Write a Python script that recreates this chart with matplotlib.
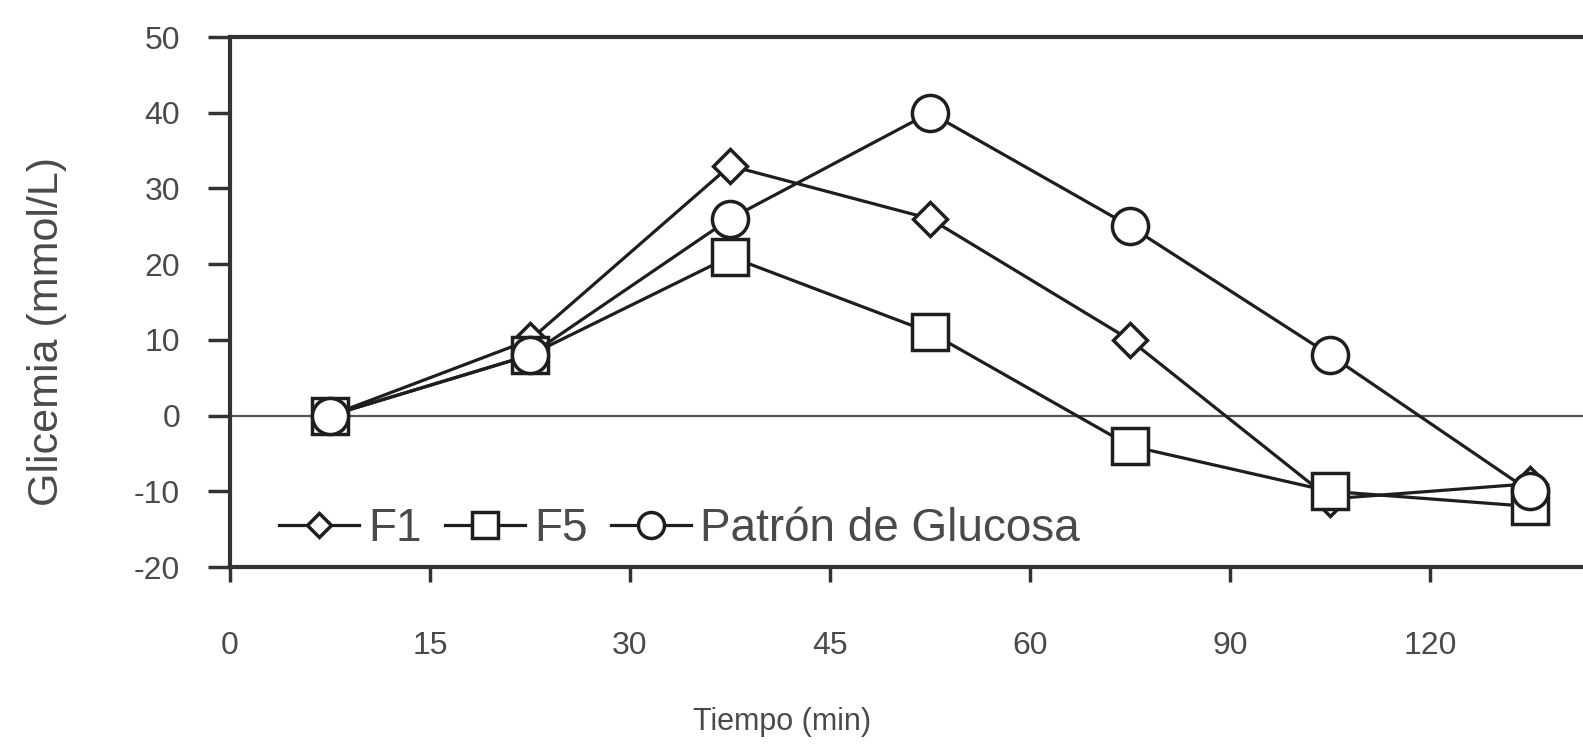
import matplotlib
matplotlib.use("Agg")
import matplotlib.pyplot as plt
import numpy as np

# Data
tiempos = ["7.5", "22.5", "37.5", "52.5", "75", "105", "135"]
tick_labels = ["0", "15", "30", "45", "60", "90", "120"]
f1 = [0, 10, 33, 26, 10, -11, -9]
f5 = [0, 8, 21, 11, -4, -10, -12]
glucosa = [0, 8, 26, 40, 25, 8, -10]

plt.rcParams['font.family'] = ['Liberation Sans', 'DejaVu Sans']
plt.rcParams['axes.unicode_minus'] = False
txt = '#4a4a4a'
ink = '#1e1e1e'

fig = plt.figure(figsize=(15.83, 7.46), dpi=100)
ax = fig.add_axes([0.1453, 0.2399, 0.8844, 0.7105])

x = np.arange(len(tiempos)) + 0.5

ax.axhline(0, color='#555555', lw=1.6, zorder=1)

ax.plot(x, f1, color=ink, lw=2.3, marker='D', ms=17, mfc='white',
        mec=ink, mew=2.5, label='F1', zorder=3)
ax.plot(x, f5, color=ink, lw=2.3, marker='s', ms=26, mfc='white',
        mec=ink, mew=2.5, label='F5', zorder=4)
ax.plot(x, glucosa, color=ink, lw=2.3, marker='o', ms=26, mfc='white',
        mec=ink, mew=2.5, label='Patrón de Glucosa', zorder=5)

ax.set_xlim(0, 7)
ax.set_ylim(-20, 50)
ax.set_xticks(np.arange(0, 7))
ax.set_xticklabels(tick_labels)
ax.set_yticks(np.arange(-20, 51, 10))

for s in ['top', 'bottom', 'left']:
    ax.spines[s].set_linewidth(3)
    ax.spines[s].set_color('#333333')
ax.spines['right'].set_visible(False)

ax.tick_params(axis='y', direction='out', length=16, width=2.5, color='#333333',
               pad=20, labelsize=23, labelcolor=txt)
ax.tick_params(axis='x', direction='out', length=11, width=2.5, color='#333333',
               pad=35, labelsize=23, labelcolor=txt)

leg = ax.legend(loc='lower left', ncol=3, frameon=False, fontsize=33,
                markerscale=0.72, handlelength=1.75, handletextpad=0.2,
                columnspacing=0.5, bbox_to_anchor=(0.022, -0.005),
                borderaxespad=0)
for t in leg.get_texts():
    t.set_color(txt)

fig.text(0.030, 0.555, 'Glicemia (mmol/L)', rotation=90, ha='center', va='center',
         fontsize=31, color=txt)
fig.text(0.494, 0.032, 'Tiempo (min)', ha='center', va='center',
         fontsize=22, color=txt)

fig.savefig('out.png', dpi=100)
